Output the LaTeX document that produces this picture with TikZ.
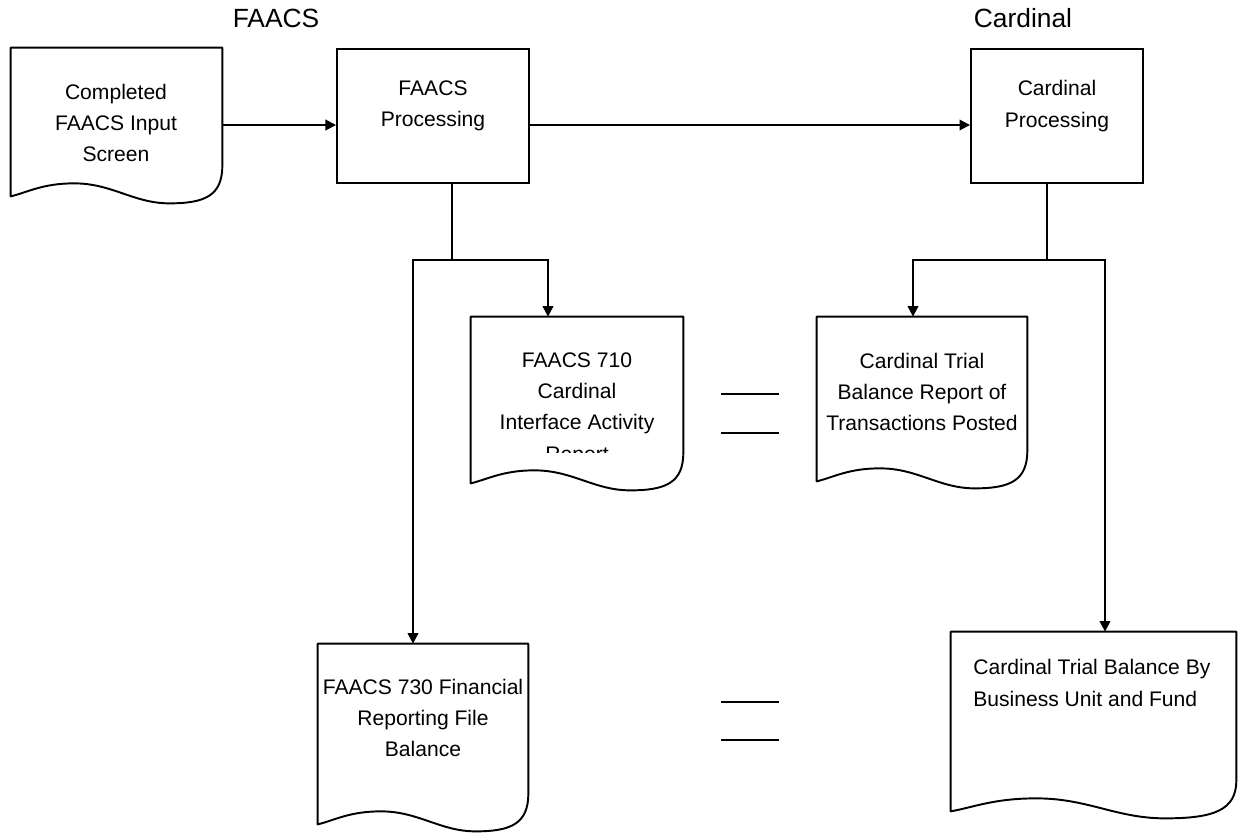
\documentclass[tikz,border=0pt]{standalone}
\usepackage{fontspec}
\setmainfont{Liberation Sans}
\usetikzlibrary{arrows.meta,calc,fit}
\tikzset{
  box/.style={draw, line width=1.1pt, inner sep=0pt},
  page/.style={inner sep=0pt},
  docedge/.style={draw, line width=1.1pt, line join=round},
  txt/.style={align=center, inner sep=0pt, font=\fontsize{12}{17.9}\selectfont},
  head/.style={inner sep=0pt, font=\fontsize{15}{18}\selectfont},
  link/.style={line width=1.1pt},
  flow/.style={link, -{Triangle[length=6pt,width=6pt]}},
  eqbar/.style={line width=1.1pt}
}
% outline of a document node, wavy edge below its south side
\newcommand{\docoutline}[1]{%
  \draw[docedge] (#1.north west) -- (#1.north east) -- (#1.south east)
    .. controls ($(#1.south east)+(0,30)$) and ($(#1.south east)!0.08!(#1.south west)+(0,38)$) .. ($(#1.south east)!0.25!(#1.south west)+(0,38)$)
    .. controls ($(#1.south east)!0.42!(#1.south west)+(0,38)$) and ($(#1.south west)!0.48!(#1.south east)+(0,18)$) .. ($(#1.south west)!0.3!(#1.south east)+(0,18)$)
    .. controls ($(#1.south west)!0.15!(#1.south east)+(0,18)$) and ($(#1.south west)!0.08!(#1.south east)+(0,27)$) .. ($(#1.south west)+(0,31)$)
    -- cycle;}
\begin{document}
\begin{tikzpicture}[x=0.02cm, y=-0.02cm]
  \useasboundingbox (0,0) rectangle (1238,836);
  % headings
  \node[head] (hfaacs) at (276,18) {FAACS};
  \node[head] (hcard) at (1023,18) {Cardinal};
  % processes
  \node[box, fit={(337,49) (529,183)}] (fproc) {};
  \node[box, fit={(971,49) (1143,183)}] (cproc) {};
  \node[txt] (fproctxt) at (433,106) {FAACS\\Processing};
  \node[txt] (cproctxt) at (1057,106) {Cardinal\\Processing};
  % documents
  \node[page, fit={(11,48) (222,165)}] (input) {};
  \node[page, fit={(471,317) (683,452)}] (r710) {};
  \node[page, fit={(817,317) (1027,450)}] (ctbr) {};
  \node[page, fit={(318,644) (528,793)}] (r730) {};
  \node[page, fit={(951,632) (1236,780)}] (ctbu) {};
  \foreach \d in {input,r710,ctbr,r730,ctbu} {\docoutline{\d}}
  \node[txt] (inputtxt) at (116,123) {Completed\\FAACS Input\\Screen};
  \begin{scope}
    \clip (r710.north west) rectangle (r710.south east);
    \node[txt] (r710txt) at (577,409) {FAACS 710\\Cardinal\\Interface Activity\\Report};
  \end{scope}
  \node[txt] (ctbrtxt) at (922,392) {Cardinal Trial\\Balance Report of\\Transactions Posted};
  \node[txt] (r730txt) at (423,718) {FAACS 730 Financial\\Reporting File\\Balance};
  \node[txt, align=left, anchor=west] (ctbutxt) at (973,683) {Cardinal Trial Balance By\\Business Unit and Fund};
  % main row
  \coordinate (mainrow) at (0,125);
  \draw[flow] (input.east |- mainrow) -- (fproc.west |- mainrow);
  \draw[flow] (fproc.east |- mainrow) -- (cproc.west |- mainrow);
  % FAACS outputs
  \coordinate (fsplit) at (452,260);
  \coordinate (fleft) at (413,0);
  \coordinate (fright) at (548,0);
  \draw[link] (fproc.south -| fsplit) -- (fsplit);
  \draw[flow] (fsplit) -| (r710.north -| fright);
  \draw[flow] (fsplit) -| (r730.north -| fleft);
  % Cardinal outputs
  \coordinate (csplit) at (1047,260);
  \coordinate (cleft) at (913,0);
  \coordinate (cright) at (1105,0);
  \draw[link] (cproc.south -| csplit) -- (csplit);
  \draw[flow] (csplit) -| (ctbr.north -| cleft);
  \draw[flow] (csplit) -| (ctbu.north -| cright);
  % equal marks
  \draw[eqbar] (721,394) -- (779,394) (721,433) -- (779,433);
  \draw[eqbar] (721,702) -- (779,702) (721,740) -- (779,740);
\end{tikzpicture}
\end{document}
